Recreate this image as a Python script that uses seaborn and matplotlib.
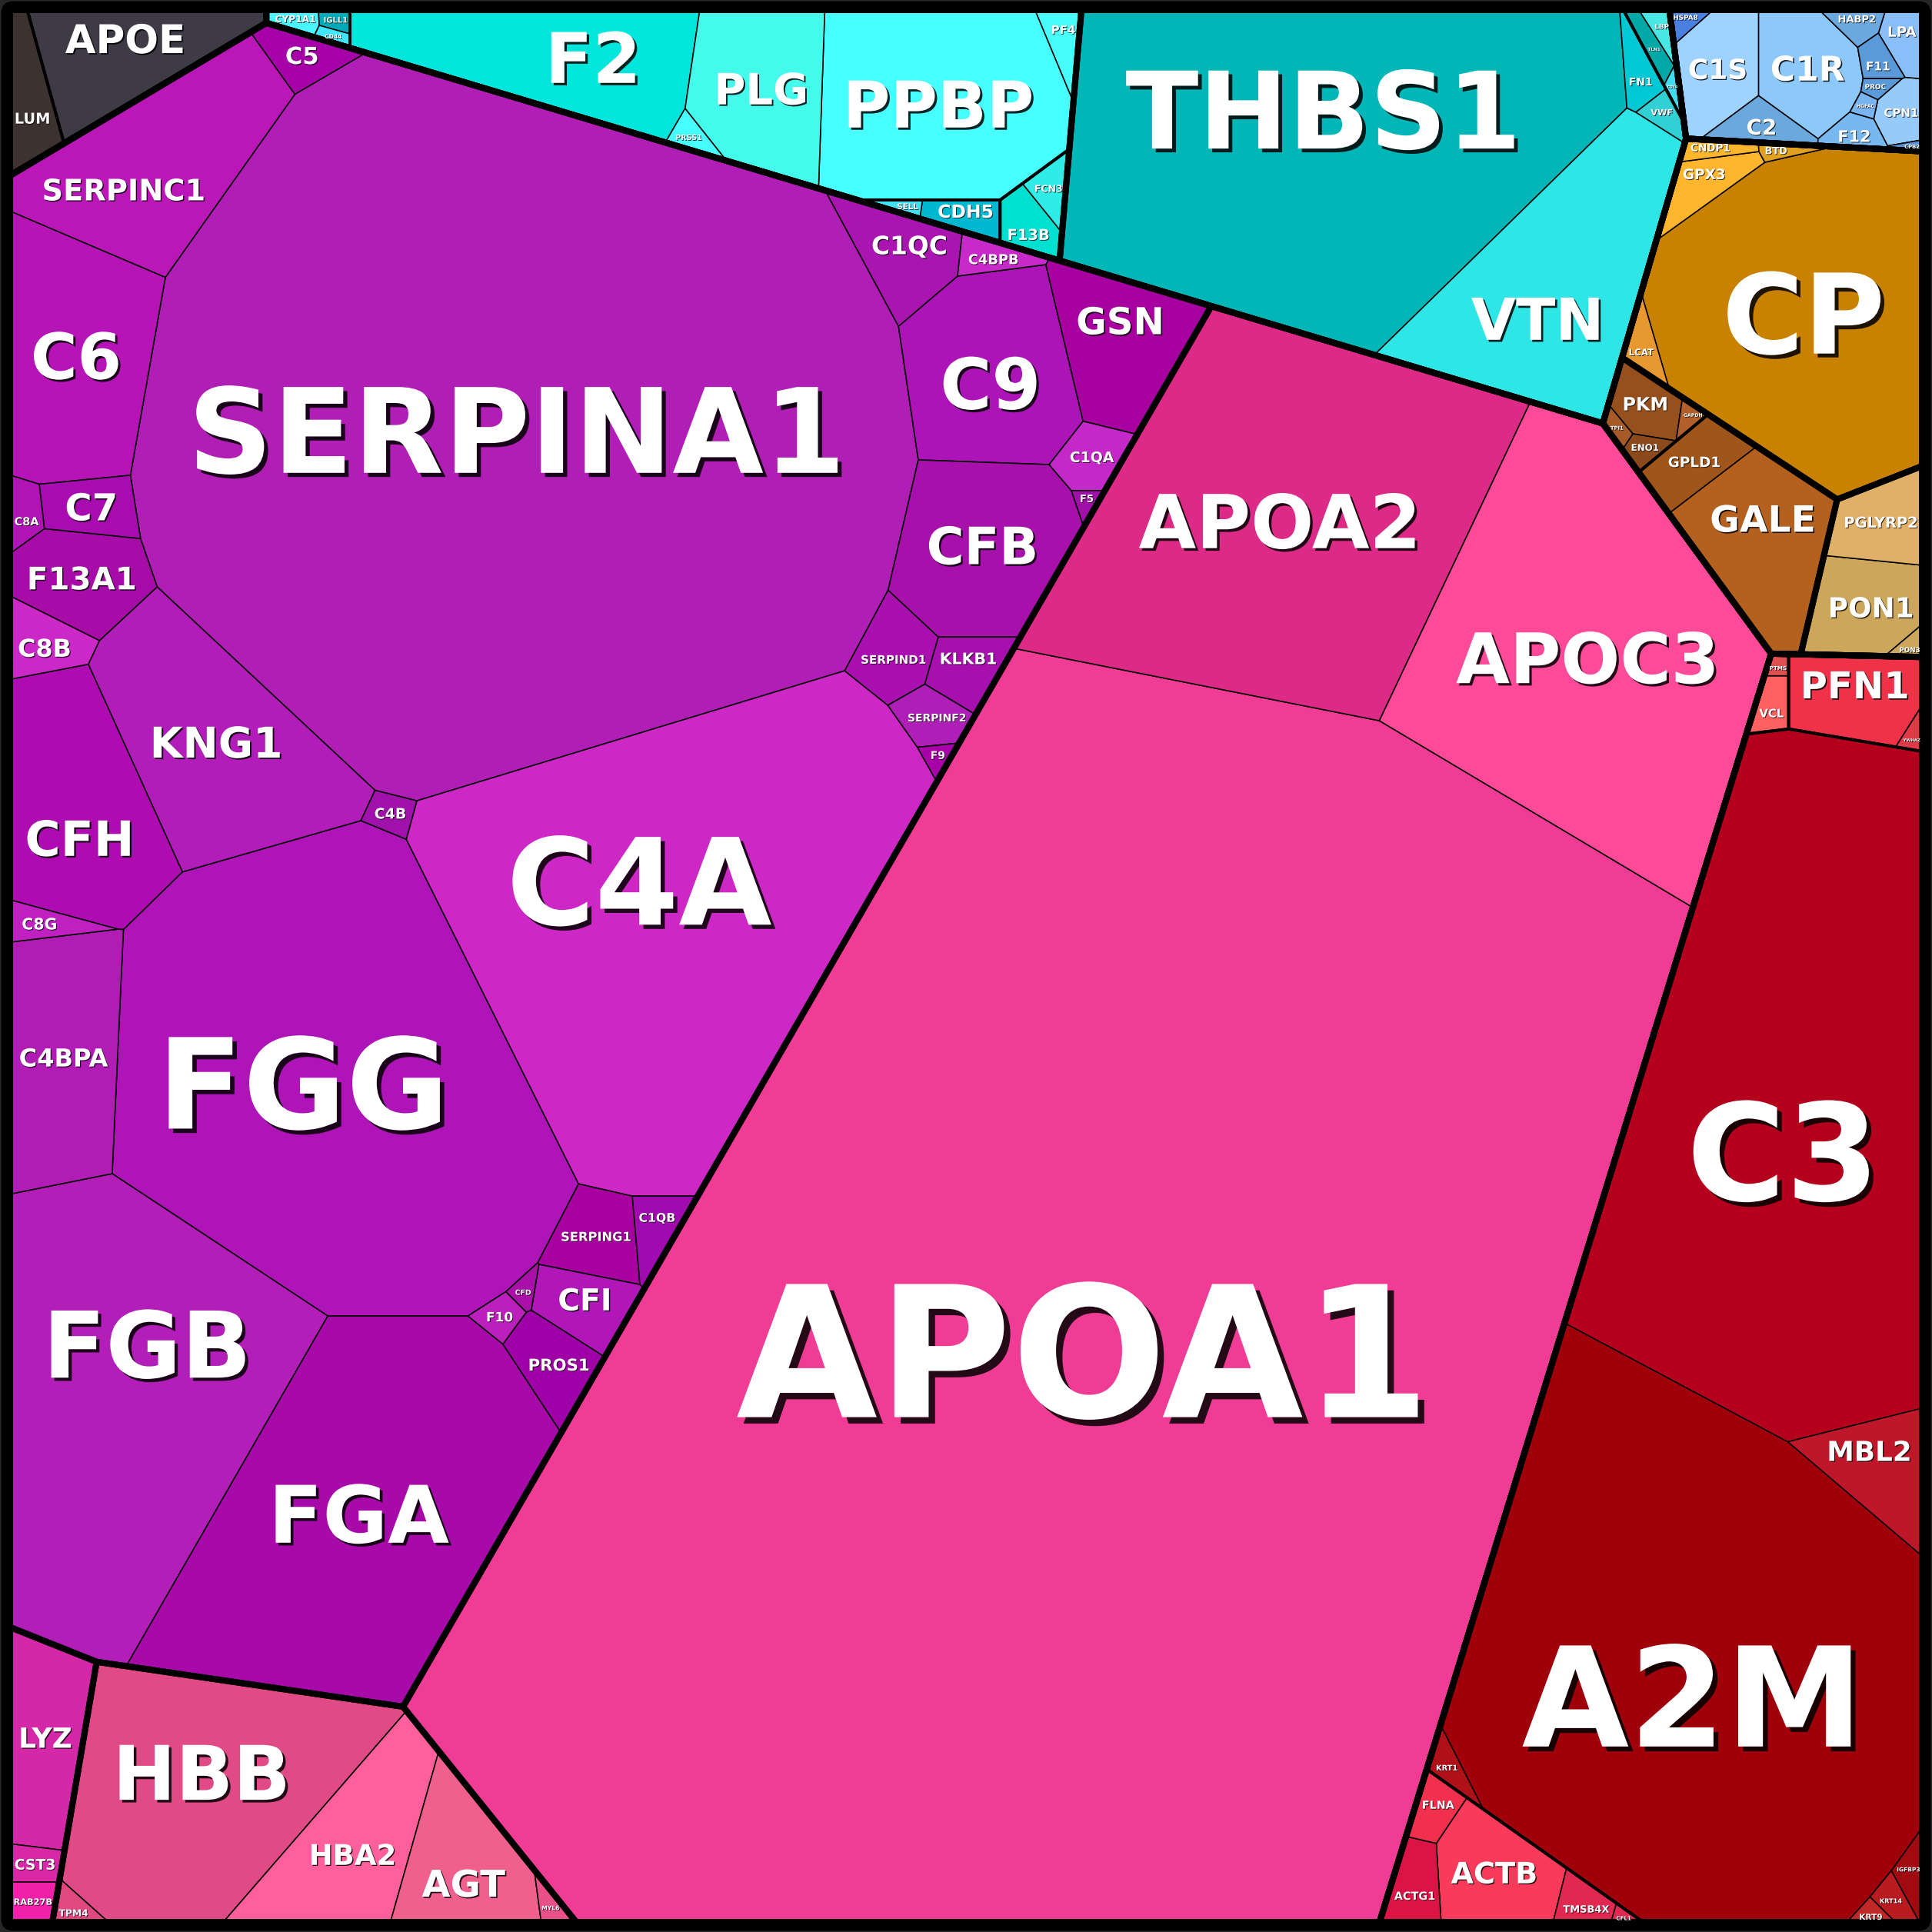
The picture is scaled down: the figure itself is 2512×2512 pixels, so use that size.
import numpy as np
import pandas as pd
import seaborn as sns
import matplotlib.pyplot as plt
import matplotlib.patheffects as pe
from matplotlib.patches import Polygon, FancyBboxPatch
from matplotlib.textpath import TextPath
from matplotlib.font_manager import FontProperties

# ---------------- data: relative protein abundance per functional group ----------------
# sub = second level category inside a group
grey_genes = ['APOE', 'LUM']
grey_values = [11.3, 3.7]
grey_sub = [0, 1]

purple_genes = ['SERPINA1', 'FGG', 'C4A', 'FGB', 'FGA', 'KNG1', 'SERPINC1', 'C6',
                'CFH', 'C9', 'CFB', 'C4BPA', 'GSN', 'F13A1', 'C1QC', 'SERPING1',
                'SERPIND1', 'CFI', 'PROS1', 'C7', 'KLKB1', 'C8B', 'C5', 'C1QA',
                'SERPINF2', 'C1QB', 'C4BPB', 'C8G', 'C8A', 'C4B', 'F10', 'F9', 'CFD', 'F5']
purple_values = [282, 108, 107, 67.4, 67.2, 27.5, 22.4, 21.6,
                 21, 18.9, 17.5, 17.5, 11, 7.5, 5.9, 4.5,
                 4, 4, 4, 3.3, 3, 3, 2.5, 2.5,
                 2.2, 2.1, 1.5, 1.5, 1.3, 1.1, 1, 0.5, 0.5, 0.4]
purple_sub = [0] * len(purple_genes)

cyan_a_genes = ['PPBP', 'F2', 'PLG', 'F13B', 'CDH5', 'PF4', 'FCN3', 'PRSS1', 'CYP1A1', 'SELL', 'IGLL1', 'CD44']
cyan_a_values = [28.7, 19.6, 13.2, 2.0, 1.6, 1.4, 1.2, 0.8, 0.7, 0.4, 0.4, 0.3]
cyan_a_sub = [0, 0, 0, 2, 1, 0, 2, 0, 3, 1, 3, 3]

cyan_b_genes = ['THBS1', 'VTN', 'FN1', 'TLN1', 'VWF', 'LBP', 'CD14']
cyan_b_values = [96, 30.4, 1.5, 0.8, 0.8, 0.6, 0.3]
cyan_b_sub = [0, 0, 0, 1, 0, 1, 1]

blue_genes = ['C1R', 'C1S', 'C2', 'CPN1', 'LPA', 'F12', 'HABP2', 'F11', 'HSPA8', 'PROC', 'HGFAC', 'CPB2']
blue_values = [6.7, 5.5, 1.95, 1.7, 1.5, 1.1, 0.94, 0.87, 0.5, 0.35, 0.3, 0.17]
blue_sub = [0] * len(blue_genes)

orange_genes = ['CP', 'GPX3', 'LCAT', 'CNDP1', 'BTD']
orange_values = [49.4, 2.5, 1.2, 0.8, 0.5]
orange_sub = [0, 0, 0, 0, 0]

brown_genes = ['GALE', 'GPLD1', 'PKM', 'ENO1', 'TPI1', 'GAPDH']
brown_values = [13, 3.5, 2.5, 0.7, 0.4, 0.4]
brown_sub = [0, 0, 1, 1, 1, 1]

tan_genes = ['PON1', 'PGLYRP2', 'PON3']
tan_values = [6.5, 4.6, 0.4]
tan_sub = [0, 0, 0]

pink_genes = ['APOA1', 'APOA2', 'APOC3']
pink_values = [705, 83.7, 72.6]
pink_sub = [0, 0, 0]

hbb_genes = ['HBB', 'HBA2', 'AGT', 'TPM4', 'MYL6']
hbb_values = [38.5, 14, 9.8, 0.8, 0.6]
hbb_sub = [0, 0, 0, 0, 0]

lyz_genes = ['LYZ', 'CST3', 'RAB27B']
lyz_values = [9.6, 1.2, 1.2]
lyz_sub = [0, 0, 0]

red_genes = ['A2M', 'C3', 'ACTB', 'PFN1', 'MBL2', 'ACTG1', 'FLNA', 'TMSB4X',
             'VCL', 'KRT1', 'IGFBP3', 'KRT14', 'KRT9', 'YWHAZ', 'PTMS', 'CFL1']
red_values = [136, 120, 7.5, 7, 6.5, 2.5, 1.6, 1.4, 1.2, 1, 1, 0.8, 0.4, 0.4, 0.3, 0.2]
red_sub = [0, 0, 2, 1, 0, 2, 2, 2, 3, 0, 0, 0, 0, 1, 3, 2]

# top level categories -> groups
supers = {
    'grey': ['grey'],
    'warm': ['purple', 'pink', 'hbb', 'lyz'],
    'cyan': ['cyan_a', 'cyan_b'],
    'blue': ['blue'],
    'tawny': ['orange', 'brown', 'tan'],
    'red': ['red'],
}
table = {
    'grey': (grey_genes, grey_values, grey_sub),
    'purple': (purple_genes, purple_values, purple_sub),
    'pink': (pink_genes, pink_values, pink_sub),
    'hbb': (hbb_genes, hbb_values, hbb_sub),
    'lyz': (lyz_genes, lyz_values, lyz_sub),
    'cyan_a': (cyan_a_genes, cyan_a_values, cyan_a_sub),
    'cyan_b': (cyan_b_genes, cyan_b_values, cyan_b_sub),
    'blue': (blue_genes, blue_values, blue_sub),
    'orange': (orange_genes, orange_values, orange_sub),
    'brown': (brown_genes, brown_values, brown_sub),
    'tan': (tan_genes, tan_values, tan_sub),
    'red': (red_genes, red_values, red_sub),
}

rows = []
for sup, groups in supers.items():
    for g in groups:
        for name, v, s in zip(*table[g]):
            rows.append((sup, g, s, name, v))
df = pd.DataFrame(rows, columns=['super', 'group', 'sub', 'gene', 'value'])

# ---------------- style ----------------
colors = {
    'APOE': '#3e3b47', 'LUM': '#3d3230',
    'SERPINA1': '#b11eb6', 'FGG': '#ae14b8', 'C4A': '#cd28c5', 'FGB': '#b31eb8', 'FGA': '#a80aaa',
    'KNG1': '#b21cb8', 'SERPINC1': '#bb16b8', 'C6': '#b614b6', 'CFH': '#b00ab2', 'C9': '#ac14b8',
    'CFB': '#a810ac', 'C4BPA': '#b01cb4', 'GSN': '#a800a0', 'F13A1': '#a80ca8', 'C1QC': '#aa14b0',
    'SERPING1': '#a800a0', 'SERPIND1': '#aa10b0', 'CFI': '#b016b8', 'PROS1': '#a000a8', 'C7': '#a80cb0',
    'KLKB1': '#a70fae', 'C8B': '#cc28c8', 'C5': '#a800a8', 'C1QA': '#c428c8', 'SERPINF2': '#b01eb8',
    'C1QB': '#a00aae', 'C4BPB': '#c82aca', 'C8G': '#c020c0', 'C8A': '#b014b6', 'C4B': '#a010aa',
    'F10': '#bc20bc', 'F9': '#a800a8', 'CFD': '#a810a8', 'F5': '#a010a8',
    'PPBP': '#48ffff', 'F2': '#00e6dc', 'PLG': '#44faea', 'F13B': '#00e0d0', 'CDH5': '#00b8d0',
    'PF4': '#48fcfa', 'FCN3': '#30ece6', 'PRSS1': '#48ffff', 'CYP1A1': '#48f5ff', 'SELL': '#40e0f0',
    'IGLL1': '#00aab8', 'CD44': '#40e6ff',
    'THBS1': '#00b6b6', 'VTN': '#2ee6e6', 'FN1': '#00c8d4', 'TLN1': '#00a8a8', 'VWF': '#30d0d4',
    'LBP': '#48e8e4', 'CD14': '#40dcf0',
    'C1R': '#8cc8fa', 'C1S': '#9ed2ff', 'C2': '#6aa8de', 'CPN1': '#96caf8', 'LPA': '#8abef8',
    'F12': '#78b8f0', 'HABP2': '#6aa8de', 'F11': '#5a9ad8', 'HSPA8': '#4a80e0', 'PROC': '#5a9ad8',
    'HGFAC': '#7ab4f0', 'CPB2': '#5a92d8',
    'CP': '#c88200', 'GPX3': '#ffb52c', 'LCAT': '#e89830', 'CNDP1': '#ffb52c', 'BTD': '#e0a020',
    'GALE': '#b4601e', 'GPLD1': '#a0561a', 'PKM': '#96501e', 'ENO1': '#8a4a1c', 'TPI1': '#a65a28',
    'GAPDH': '#b06028',
    'PON1': '#cca65a', 'PGLYRP2': '#e0b068', 'PON3': '#cca65a',
    'APOA1': '#f03c94', 'APOA2': '#dc2a86', 'APOC3': '#ff4a9a',
    'HBB': '#e04a86', 'HBA2': '#ff5f9a', 'AGT': '#f0608e', 'LYZ': '#d428a8', 'CST3': '#d828a8',
    'RAB27B': '#f020a8', 'TPM4': '#e04880', 'MYL6': '#e85088',
    'A2M': '#a0000a', 'C3': '#b4001c', 'ACTB': '#fa3a5a', 'PFN1': '#f03248', 'MBL2': '#c0162a',
    'ACTG1': '#dc1446', 'FLNA': '#f0304c', 'TMSB4X': '#e02850', 'VCL': '#ff6060', 'KRT1': '#b01018',
    'IGFBP3': '#a00a10', 'KRT14': '#b81c20', 'KRT9': '#c02828', 'YWHAZ': '#e03a48', 'PTMS': '#e05050',
    'CFL1': '#e02850',
}

# layout hints: start sites of the voronoi treemap on a 1568 px canvas
seeds = {
    'APOE': (95, 40), 'LUM': (25, 85),
    'SERPINA1': (428, 355), 'FGG': (265, 880), 'C4A': (545, 740), 'FGB': (100, 1130),
    'FGA': (265, 1225), 'KNG1': (188, 612), 'SERPINC1': (124, 140), 'C6': (60, 290),
    'CFH': (60, 670), 'C9': (800, 300), 'CFB': (795, 440), 'C4BPA': (48, 870),
    'GSN': (905, 275), 'F13A1': (65, 480), 'C1QC': (715, 200), 'SERPING1': (487, 995),
    'SERPIND1': (725, 515), 'CFI': (475, 1055), 'PROS1': (440, 1110), 'C7': (72, 412),
    'KLKB1': (795, 535), 'C8B': (35, 540), 'C5': (250, 50), 'C1QA': (883, 365),
    'SERPINF2': (765, 585), 'C1QB': (545, 990), 'C4BPB': (788, 208), 'C8G': (35, 762),
    'C8A': (20, 418), 'C4B': (345, 685), 'F10': (388, 1072), 'F9': (768, 615),
    'CFD': (415, 1045), 'F5': (883, 410),
    'PPBP': (750, 75), 'F2': (440, 45), 'PLG': (608, 70), 'F13B': (828, 182),
    'CDH5': (775, 175), 'PF4': (858, 30), 'FCN3': (859, 157), 'PRSS1': (555, 112),
    'CYP1A1': (250, 16), 'SELL': (712, 166), 'IGLL1': (288, 14), 'CD44': (283, 32),
    'THBS1': (1065, 110), 'VTN': (1240, 289), 'FN1': (1335, 90), 'TLN1': (1325, 32),
    'VWF': (1352, 112), 'LBP': (1347, 18), 'CD14': (1356, 48),
    'C1R': (1462, 55), 'C1S': (1393, 55), 'C2': (1428, 102), 'CPN1': (1540, 88),
    'LPA': (1545, 30), 'F12': (1505, 106), 'HABP2': (1500, 16), 'F11': (1520, 45),
    'HSPA8': (1362, 20), 'PROC': (1520, 65), 'HGFAC': (1512, 82), 'CPB2': (1545, 117),
    'CP': (1455, 252), 'GPX3': (1378, 145), 'LCAT': (1325, 290), 'CNDP1': (1375, 122),
    'BTD': (1425, 119),
    'GALE': (1420, 440), 'GPLD1': (1365, 368), 'PKM': (1333, 326), 'ENO1': (1328, 357),
    'TPI1': (1310, 345), 'GAPDH': (1360, 330),
    'PON1': (1515, 485), 'PGLYRP2': (1522, 415), 'PON3': (1548, 524),
    'APOA1': (943, 910), 'APOA2': (1040, 420), 'APOC3': (1192, 492),
    'HBB': (150, 1440), 'HBA2': (256, 1532), 'AGT': (362, 1562), 'TPM4': (50, 1552), 'MYL6': (452, 1550),
    'LYZ': (35, 1420), 'CST3': (22, 1528), 'RAB27B': (22, 1550),
    'A2M': (1229, 1295), 'C3': (1450, 880), 'ACTB': (1230, 1525), 'PFN1': (1500, 565),
    'MBL2': (1480, 1000), 'ACTG1': (1148, 1530), 'FLNA': (1160, 1478), 'TMSB4X': (1322, 1548),
    'VCL': (1430, 575), 'KRT1': (1140, 1340), 'IGFBP3': (1552, 1528), 'KRT14': (1530, 1540),
    'KRT9': (1515, 1555), 'YWHAZ': (1552, 598), 'PTMS': (1430, 545), 'CFL1': (1350, 1556),
}
# sites for categories (their relative directions set the slope of the thick borders)
site_hints = {
    'warm': (600, 900), 'grey': (429, 613), 'cyan': (686, 613), 'blue': (910, 584),
    'tawny': (905, 677), 'red': (898, 992),
    'purple': (350, 700), 'pink': (603, 846), 'hbb': (292, 1096), 'lyz': (198, 1080),
    'orange': (1450, 250), 'brown': (1421, 294), 'tan': (1472, 306),
    'cyan_a': (600, 60), 'cyan_b': (1048, 99),
    'cyan_a/0': (600, 62), 'cyan_a/1': (600, 183), 'cyan_a/2': (689, 183), 'cyan_a/3': (300, 62),
    'grey/0': (88, 74), 'grey/1': (30, 90),
    'red/0': (1450, 1000), 'red/1': (1500, 702), 'red/2': (1277, 1245), 'red/3': (1414, 702),
}
df['sx'] = df.gene.map(lambda g: seeds[g][0]).astype(float)
df['sy'] = df.gene.map(lambda g: seeds[g][1]).astype(float)


# ---------------- weighted voronoi (power diagram) treemap ----------------
def area_centroid(P):
    x, y = P[:, 0], P[:, 1]
    x2, y2 = np.roll(x, -1), np.roll(y, -1)
    cr = x * y2 - x2 * y
    a = cr.sum() / 2
    if abs(a) < 1e-12:
        return 0.0, P.mean(0)
    return abs(a), np.array([((x + x2) * cr).sum() / (6 * a), ((y + y2) * cr).sum() / (6 * a)])


def clip(pts, labs, a, b, c, lab):
    s = [a * x + b * y - c for (x, y) in pts]
    if max(s) <= 0:
        return pts, labs
    if min(s) >= 0:
        return [], []
    out, ol = [], []
    n = len(pts)
    for k in range(n):
        k2 = (k + 1) % n
        s1, s2 = s[k], s[k2]
        x1, y1 = pts[k]
        x2, y2 = pts[k2]
        if s1 <= 0:
            out.append((x1, y1)); ol.append(labs[k])
            if s2 > 0:
                t = s1 / (s1 - s2)
                out.append((x1 + t * (x2 - x1), y1 + t * (y2 - y1))); ol.append(lab)
        elif s2 <= 0:
            t = s1 / (s1 - s2)
            out.append((x1 + t * (x2 - x1), y1 + t * (y2 - y1))); ol.append(labs[k])
    return out, ol


def power_cells(bound, sites, w):
    n = len(sites)
    sq = (sites ** 2).sum(1)
    cells = []
    for i in range(n):
        pts = [tuple(p) for p in bound]
        labs = [-1] * len(pts)
        for j in range(n):
            if j == i:
                continue
            a = 2 * (sites[j, 0] - sites[i, 0])
            b = 2 * (sites[j, 1] - sites[i, 1])
            c = sq[j] - sq[i] - w[j] + w[i]
            pts, labs = clip(pts, labs, a, b, c, j)
            if len(pts) < 3:
                pts, labs = [], []
                break
        cells.append((pts, labs))
    return cells


def cell_stats(cells, sites):
    n = len(cells)
    A = np.zeros(n)
    H = np.zeros((n, n))
    for i, (pts, labs) in enumerate(cells):
        if len(pts) < 3:
            continue
        P = np.array(pts)
        A[i] = area_centroid(P)[0]
        m = len(P)
        for k, j in enumerate(labs):
            if j < 0:
                continue
            L = np.hypot(*(P[(k + 1) % m] - P[k]))
            d = np.hypot(*(sites[j] - sites[i]))
            H[i, j] -= L / (2 * d)
    H = (H + H.T) / 2
    H[np.diag_indices(n)] = 0
    H[np.diag_indices(n)] = -H.sum(1)
    return A, H


def inside(P, q):
    x, y = P[:, 0], P[:, 1]
    x2, y2 = np.roll(x, -1), np.roll(y, -1)
    cr = (x2 - x) * (q[1] - y) - (y2 - y) * (q[0] - x)
    return (cr > 1e-6).all() or (cr < -1e-6).all()


def layout(bound, keys, values, pts):
    bound = np.asarray(bound, float)
    if len(keys) == 1:
        return {keys[0]: bound}
    total, cen = area_centroid(bound)
    values = np.asarray(values, float)
    T = values / values.sum() * total
    pts = np.asarray(pts, float)
    # shrink the start sites towards the centre (similarity keeps the result) until all are inside
    s = 1.0
    while s > 1e-3 and not all(inside(bound, cen + s * (p - cen)) for p in pts):
        s *= 0.92
    sites = cen + 0.97 * s * (pts - cen)
    w = np.zeros(len(sites))
    cells = power_cells(bound, sites, w)
    A, H = cell_stats(cells, sites)
    for it in range(100):
        if (np.abs(A - T) / T).max() < 1e-3:
            break
        d = np.linalg.lstsq(H, T - A, rcond=None)[0]
        e0 = np.linalg.norm(A - T)
        t = 1.0
        while True:
            w2 = w + t * d
            c2 = power_cells(bound, sites, w2)
            A2, H2 = cell_stats(c2, sites)
            ok = (A2 > 0.2 * np.minimum(A, T)).all() and np.linalg.norm(A2 - T) <= (1 - 0.3 * t) * e0
            if ok or t < 1e-4:
                break
            t *= 0.5
        w, cells, A, H = w2, c2, A2, H2
    return {k: np.array(c[0]) for k, c in zip(keys, cells)}


S, M = 1568.0, 8.0
square = np.array([[M, M], [S - M, M], [S - M, S - M], [M, S - M]])


def site_for(name, d):
    if name in site_hints:
        return np.array(site_hints[name], float)
    return np.average(d[['sx', 'sy']].values, axis=0, weights=d.value.values)


super_names = list(supers)
top_cells = layout(square, super_names,
                   [df[df['super'] == s].value.sum() for s in super_names],
                   [site_for(s, df[df['super'] == s]) for s in super_names])
group_cells, sub_cells, leaf_cells = {}, {}, {}
for sp in super_names:
    gs = supers[sp]
    gc = layout(top_cells[sp], gs, [df[df.group == g].value.sum() for g in gs],
                [site_for(g, df[df.group == g]) for g in gs])
    group_cells.update(gc)
    for g in gs:
        dg = df[df.group == g]
        subs = sorted(dg['sub'].unique())
        keys = [f'{g}/{k}' for k in subs]
        sc = layout(gc[g], keys, [dg[dg['sub'] == k].value.sum() for k in subs],
                    [site_for(kk, dg[dg['sub'] == k]) for kk, k in zip(keys, subs)])
        if len(subs) > 1:
            sub_cells.update(sc)
        for kk, k in zip(keys, subs):
            ds = dg[dg['sub'] == k]
            leaf_cells.update(layout(sc[kk], ds.gene.tolist(), ds.value.values, ds[['sx', 'sy']].values))

# ---------------- drawing ----------------
sns.set_theme(style='white')
plt.rcParams['font.family'] = ['DejaVu Sans']

fig = plt.figure(figsize=(10.048, 10.048), dpi=250, facecolor='#262626')
ax = fig.add_axes([0, 0, 1, 1])
ax.set_xlim(0, S)
ax.set_ylim(S, 0)
ax.axis('off')
ax.add_patch(FancyBboxPatch((1, 1), S - 2, S - 2, boxstyle='round,pad=0,rounding_size=10',
                            fc='black', ec='none', zorder=0))

for gene, P in leaf_cells.items():
    ax.add_patch(Polygon(P, closed=True, fc=colors[gene], ec='black', lw=0.45,
                         joinstyle='round', zorder=1))
for P in sub_cells.values():
    ax.add_patch(Polygon(P, closed=True, fill=False, ec='black', lw=1.1, joinstyle='round', zorder=2))
for P in list(group_cells.values()) + list(top_cells.values()):
    ax.add_patch(Polygon(P, closed=True, fill=False, ec='black', lw=2.3, joinstyle='round', zorder=3))

PT = (2512 / S) * 72 / 250
fp = FontProperties(family='DejaVu Sans', weight='bold')
CAP = 0.73     # cap height of DejaVu Sans Bold, in em
PADX = 0.38    # free space left/right of a label, in em
PADY = 0.25    # free space above/below a label, in em
EM_MAX = 157   # largest label size, canvas px


def fit_em(P, c, tw):
    lo, hi = 0.0, EM_MAX
    for _ in range(22):
        mid = (lo + hi) / 2
        hw, hh = mid * (tw / 2 + PADX), mid * (CAP / 2 + PADY)
        corners = [(c[0] - hw, c[1] - hh), (c[0] + hw, c[1] - hh),
                   (c[0] + hw, c[1] + hh), (c[0] - hw, c[1] + hh)]
        if all(inside(P, q) for q in corners):
            lo = mid
        else:
            hi = mid
    return lo


for gene, P in leaf_cells.items():
    if len(P) < 3:
        continue
    _, c = area_centroid(P)
    tw = TextPath((0, 0), gene, size=1, prop=fp).get_extents().width
    x0, x1 = P[:, 0].min(), P[:, 0].max()
    y0, y1 = P[:, 1].min(), P[:, 1].max()
    best, bc = -1, c
    for fx in (-0.12, -0.06, 0, 0.06, 0.12):
        for fy in (-0.12, -0.06, 0, 0.06, 0.12):
            q = c + np.array([fx * (x1 - x0), fy * (y1 - y0)])
            if not inside(P, q):
                continue
            score = fit_em(P, q, tw) * (1 - 0.5 * (abs(fx) + abs(fy)))
            if score > best:
                best, bc = score, q
    em = fit_em(P, bc, tw)
    fs = em * PT
    if fs < 1.2:
        continue
    off = max(0.25, 0.035 * fs)
    ax.text(bc[0], bc[1] + em * CAP / 2, gene, ha='center', va='baseline', color='white',
            fontsize=fs, fontweight='bold', zorder=5,
            path_effects=[pe.withSimplePatchShadow(offset=(off, -off), shadow_rgbFace='black', alpha=0.85)])

fig.savefig('out.png', dpi=250, facecolor=fig.get_facecolor())
